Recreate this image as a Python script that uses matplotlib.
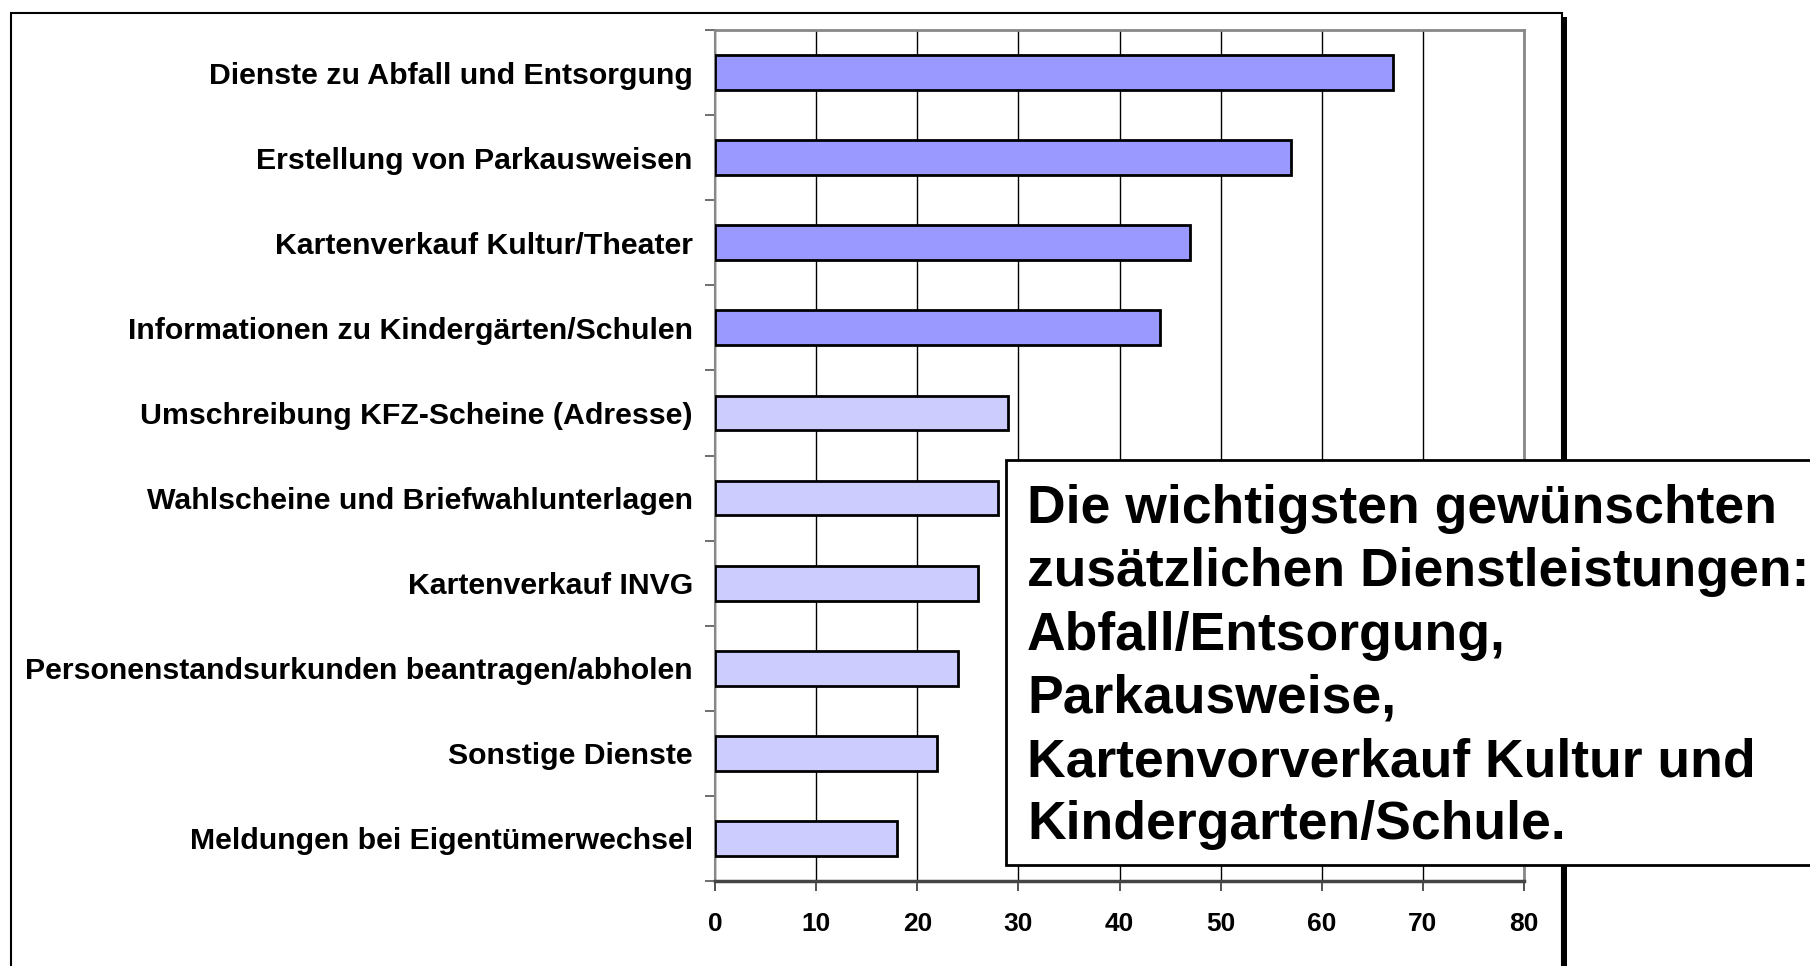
import matplotlib
matplotlib.use('agg')
import matplotlib.pyplot as plt
import matplotlib.patches as patches
import numpy as np

categories = ["Dienste zu Abfall und Entsorgung",
              "Erstellung von Parkausweisen",
              "Kartenverkauf Kultur/Theater",
              "Informationen zu Kindergärten/Schulen",
              "Umschreibung KFZ-Scheine (Adresse)",
              "Wahlscheine und Briefwahlunterlagen",
              "Kartenverkauf INVG",
              "Personenstandsurkunden beantragen/abholen",
              "Sonstige Dienste",
              "Meldungen bei Eigentümerwechsel"]
values = [67, 57, 47, 44, 29, 28, 26, 24, 22, 18]
xticks = [0, 10, 20, 30, 40, 50, 60, 70, 80]
note = ("Die wichtigsten gewünschten\n"
        "zusätzlichen Dienstleistungen:\n"
        "Abfall/Entsorgung,\n"
        "Parkausweise,\n"
        "Kartenvorverkauf Kultur und\n"
        "Kindergarten/Schule.")

plt.rcParams['font.family'] = ['Liberation Sans', 'DejaVu Sans']
plt.rcParams['font.weight'] = 'bold'

fig = plt.figure(figsize=(18.1, 9.66), dpi=100)
ax = fig.add_axes([715/1810, 1-881/966, (1524-715)/1810, (881-30)/966])

n = len(categories)
ypos = np.arange(n)
colors = ['#9999ff' if i < 4 else '#ccccff' for i in range(n)]
ax.barh(ypos, values, height=0.41, color=colors, edgecolor='black', linewidth=2, zorder=3)

ax.set_xlim(0, 80)
ax.set_ylim(n - 0.5, -0.5)
ax.set_xticks(xticks)
ax.set_xticklabels([str(t) for t in xticks], fontsize=19, fontweight='bold')
ax.set_yticks(ypos)
ax.set_yticklabels(categories, fontsize=21.8, fontweight='bold')
ax.tick_params(axis='y', which='major', length=0, pad=16)
ax.set_yticks(np.arange(n + 1) - 0.5, minor=True)
ax.tick_params(axis='y', which='minor', length=7, width=1.2, color='#555555')
ax.tick_params(axis='x', which='major', length=7, width=1.2, color='#333333', pad=15)

ax.xaxis.grid(True, color='black', linewidth=1.0, zorder=0)
ax.set_axisbelow(True)
for side in ['top', 'right']:
    ax.spines[side].set_color('#888888')
    ax.spines[side].set_linewidth(2)
ax.spines['left'].set_color('#888888')
ax.spines['left'].set_linewidth(1.5)
ax.spines['bottom'].set_color('#444444')
ax.spines['bottom'].set_linewidth(2.5)

# outer chart frame with shadow
fig.patches.append(patches.Rectangle((1562/1810, -0.01), 5/1810, 1-17/966 + 0.01,
                                     transform=fig.transFigure, facecolor='black',
                                     edgecolor='none', zorder=0))
fig.patches.append(patches.Rectangle((11/1810, -0.01), (1562-11)/1810, 1-13/966 + 0.01,
                                     transform=fig.transFigure, facecolor='none',
                                     edgecolor='black', linewidth=1.5, zorder=1))

# note box
box = patches.Rectangle((1006/1810, 1-865/966), 0.5, (865-460)/966,
                        transform=fig.transFigure, facecolor='white',
                        edgecolor='black', linewidth=2, zorder=10)
fig.patches.append(box)
fig.text(1027/1810, 1-484/966, note, fontsize=38.5, fontweight='bold',
         va='top', ha='left', linespacing=1.34, zorder=11)

plt.savefig('out.png', dpi=100)
plt.close()
